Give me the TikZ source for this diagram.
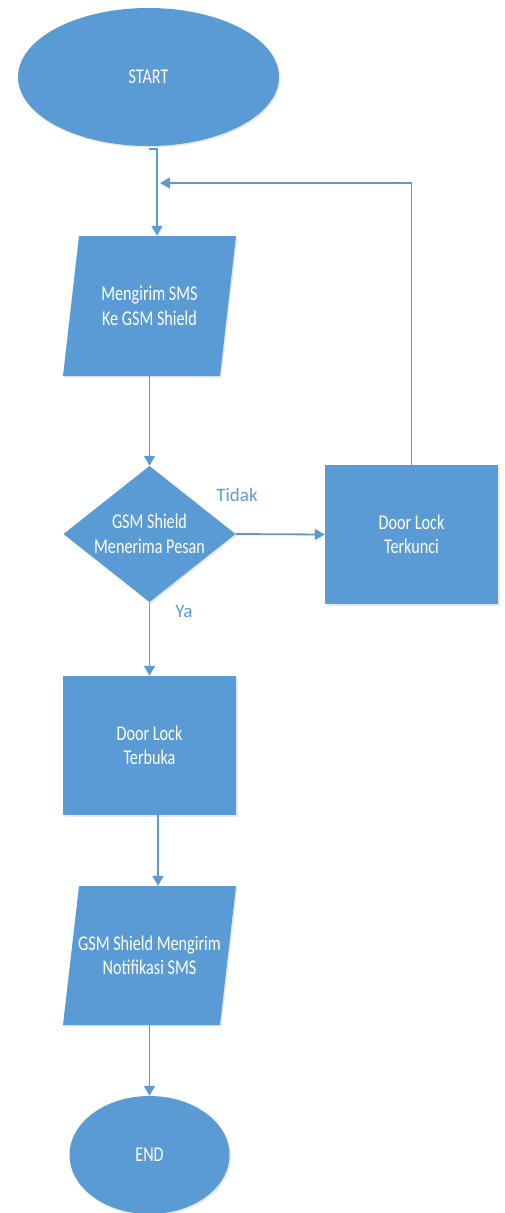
\documentclass[tikz,border=0pt]{standalone}
\usepackage{fontspec}
\setmainfont{Carlito}
\newfontfamily\boxfont[FakeStretch=0.77]{Carlito}
\usetikzlibrary{shapes.geometric,arrows.meta,shadows}
\definecolor{ofblue}{HTML}{5B9BD5}
\begin{document}
\begin{tikzpicture}[x=1pt,y=-1pt,
  shp/.style={fill=ofblue, draw=none, drop shadow={opacity=0.18, shadow xshift=1.5pt, shadow yshift=-1.5pt}},
  txt/.style={text=white, font=\boxfont\fontsize{21}{24.5}\selectfont, align=center, inner sep=0pt},
  conn/.style={draw=ofblue, line width=1.8pt, -{Triangle[length=10pt,width=11pt]}},
  lab/.style={text=ofblue, font=\fontsize{19}{22}\selectfont, inner sep=0pt}]
\useasboundingbox (0,0) rectangle (505,1213);

% START
\node[shp, txt, ellipse, minimum width=261pt, minimum height=138pt] (start) at (148.5,77) {START};

% input 1
\fill[shp] (79,236) -- (236,236) -- (220,376) -- (63,376) -- cycle;
\node[txt, minimum width=173pt, minimum height=140pt] (in1) at (149.5,306) {Mengirim SMS\\Ke GSM Shield};

% decision
\fill[shp] (149.5,466) -- (235.5,534) -- (149.5,602) -- (63.5,534) -- cycle;
\node[txt, minimum width=172pt, minimum height=136pt] (dec) at (149.5,534) {GSM Shield\\Menerima Pesan};

% locked
\node[shp, txt, rectangle, minimum width=173pt, minimum height=139pt] (lock) at (411.5,534.5) {Door Lock\\Terkunci};

% open
\node[shp, txt, rectangle, minimum width=173pt, minimum height=139pt] (open) at (149.5,745.5) {Door Lock\\Terbuka};

% output
\fill[shp] (79,886) -- (236,886) -- (220,1025) -- (63,1025) -- cycle;
\node[txt, minimum width=173pt, minimum height=139pt] (out) at (149.5,955.5) {GSM Shield Mengirim\\Notifikasi SMS};

% END
\node[shp, txt, ellipse, minimum width=160pt, minimum height=118pt] (end) at (149.5,1155) {END};

% labels
\node[lab] (tidak) at (237,495) {Tidak};
\node[lab] (ya) at (184,611) {Ya};

% connectors
\coordinate (merge) at (160,183);
\draw[conn] ([yshift=-3pt]start.south) -| ([xshift=7.5pt]in1.north);
\draw[conn] (lock.north) |- (merge);
\draw[conn] (in1.south) -- (dec.north);
\draw[conn] (dec.east) -- (lock.west);
\draw[conn] (dec.south) -- (open.north);
\draw[conn] ([xshift=8.5pt]open.south) -- ([xshift=8.5pt]out.north);
\draw[conn] (out.south) -- (end.north);
\end{tikzpicture}
\end{document}
